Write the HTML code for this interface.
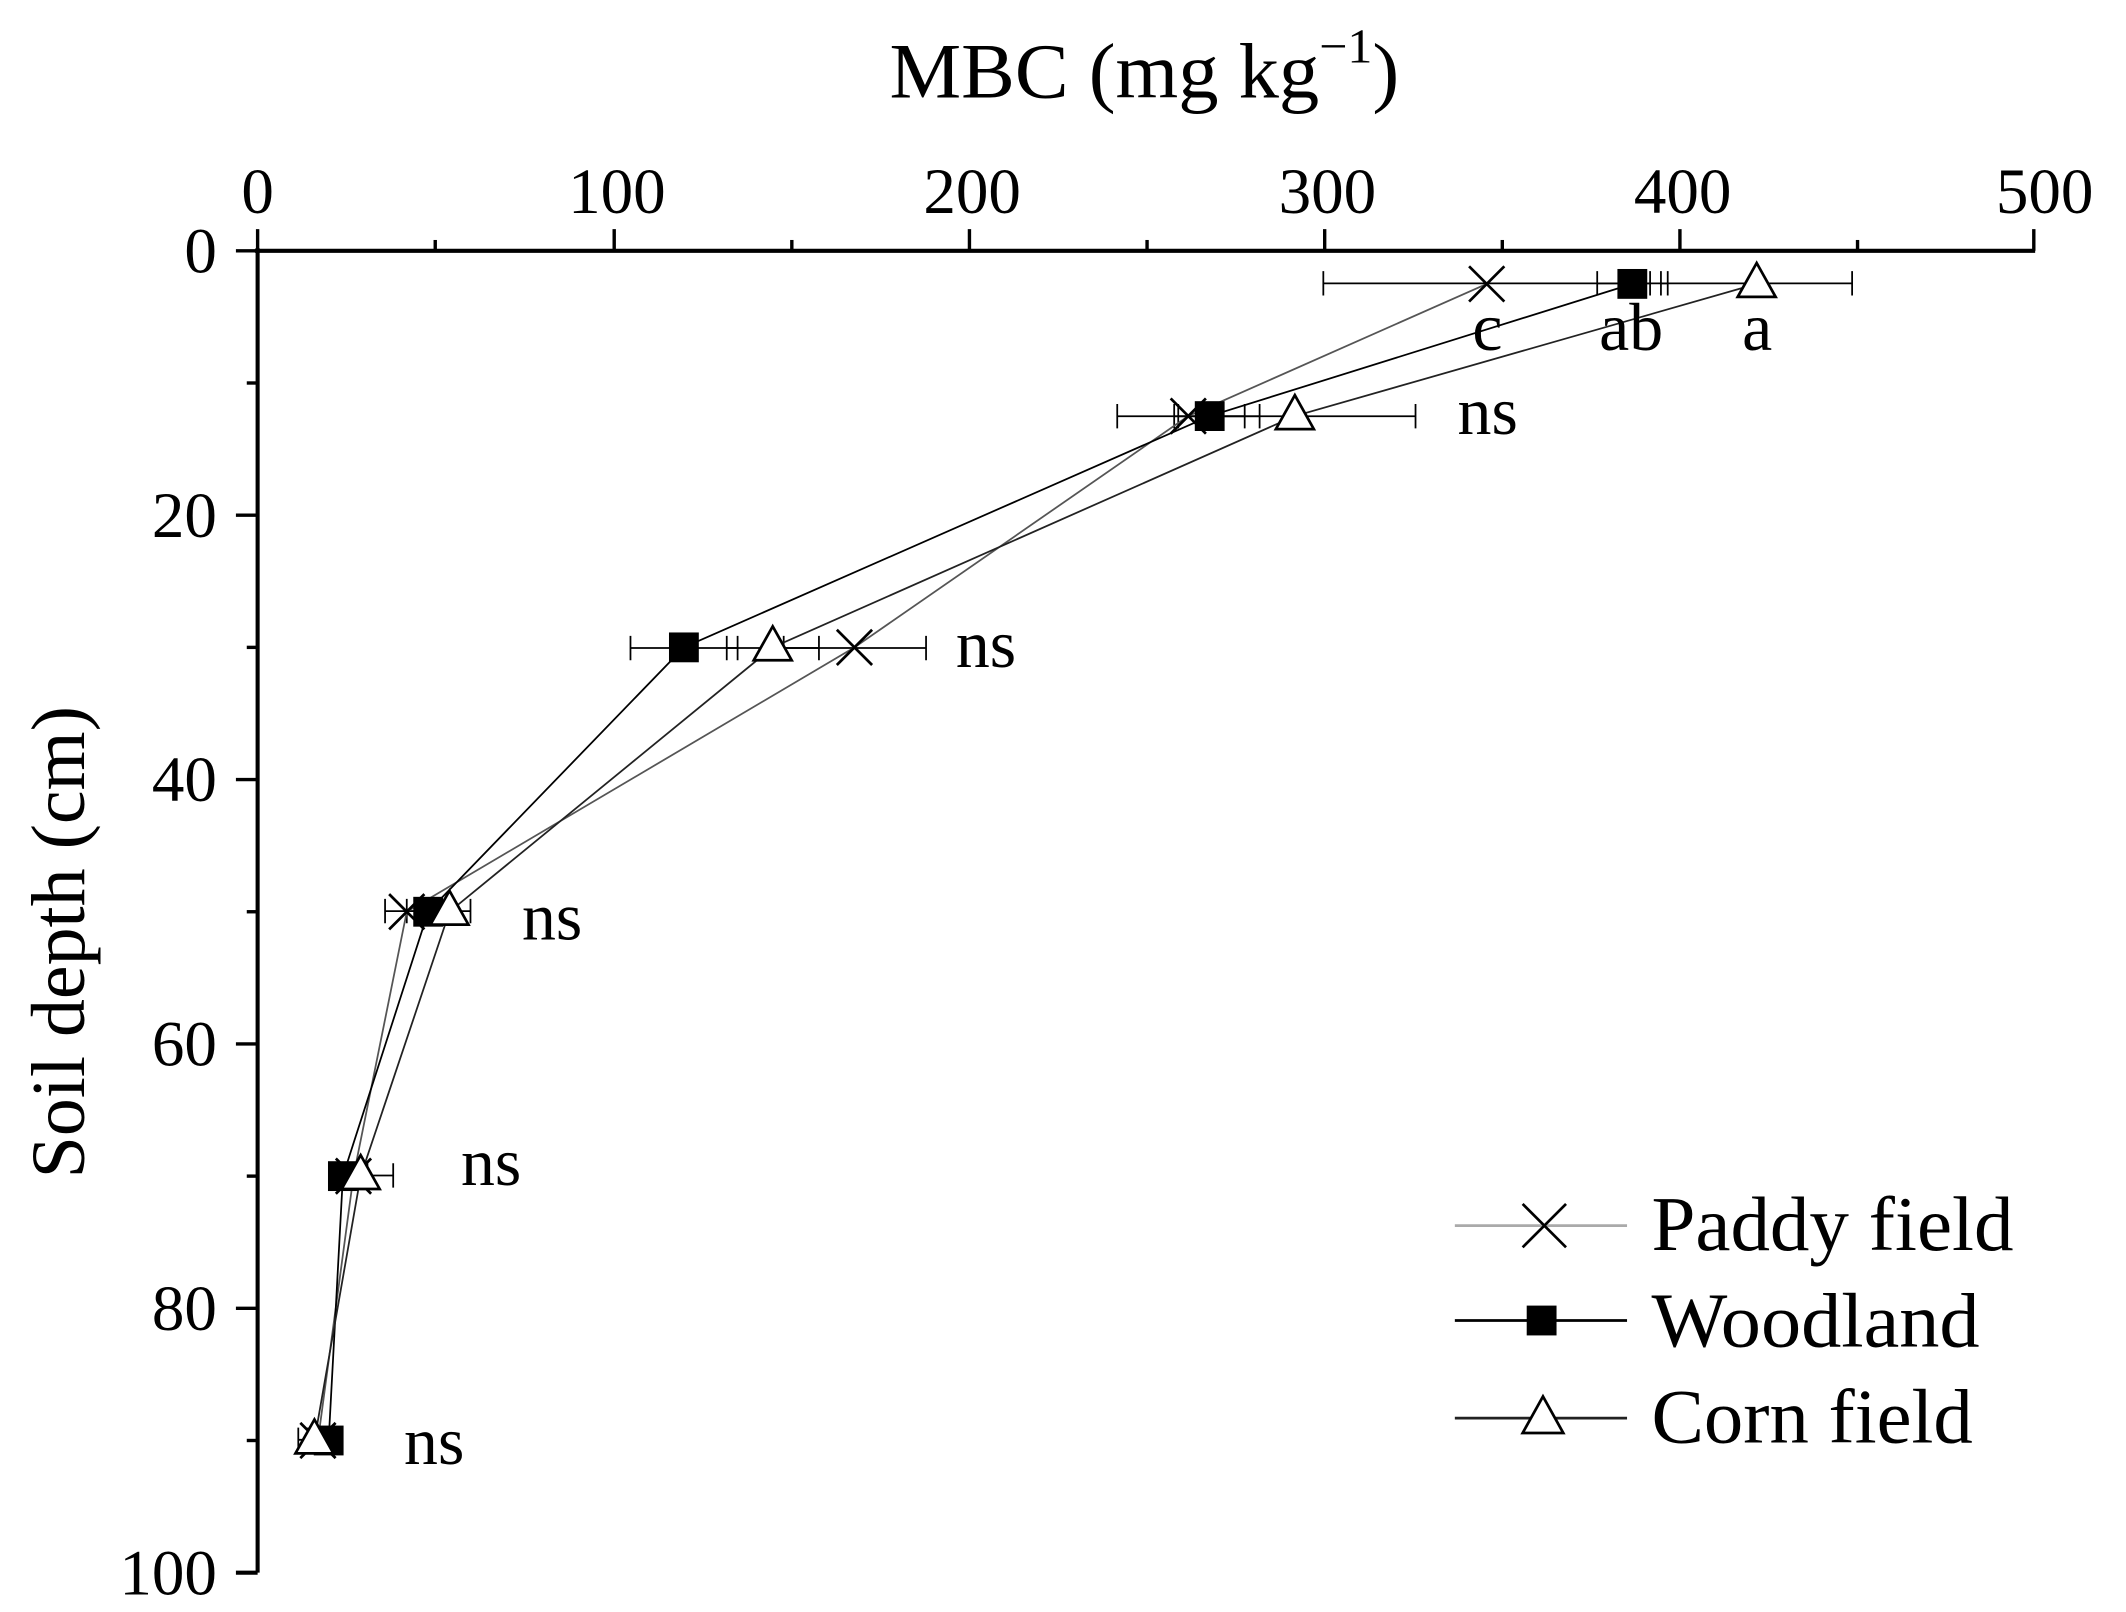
<!DOCTYPE html>
<html><head><meta charset="utf-8"><style>html,body{margin:0;padding:0;background:#fff}svg{display:block}</style></head>
<body>
<svg width="2126" height="1612" viewBox="0 0 1568 1189" preserveAspectRatio="none" xmlns="http://www.w3.org/2000/svg" font-family="Liberation Serif, serif">
<rect width="1568" height="1189" fill="#fff"/>
<!-- title -->
<text x="656" y="72" font-size="58" textLength="376" lengthAdjust="spacingAndGlyphs">MBC (mg kg<tspan font-size="36" dy="-26">−1</tspan><tspan dy="26">)</tspan></text>
<text transform="translate(62,695) rotate(-90)" text-anchor="middle" font-size="56">Soil depth (cm)</text>
<!-- axes -->
<g stroke="#000" stroke-width="3" fill="none">
<line x1="188" y1="185" x2="1501" y2="185"/>
<line x1="190" y1="183" x2="190" y2="1160"/>
<line x1="174" y1="1160" x2="190" y2="1160"/>
</g>
<g stroke="#000" stroke-width="2.5">
<line x1="190" y1="185" x2="190" y2="169"/><line x1="453" y1="185" x2="453" y2="169"/><line x1="715" y1="185" x2="715" y2="169"/><line x1="977" y1="185" x2="977" y2="169"/><line x1="1239" y1="185" x2="1239" y2="169"/><line x1="1500" y1="185" x2="1500" y2="169"/>
<line x1="321" y1="185" x2="321" y2="177"/><line x1="584" y1="185" x2="584" y2="177"/><line x1="846" y1="185" x2="846" y2="177"/><line x1="1108" y1="185" x2="1108" y2="177"/><line x1="1370" y1="185" x2="1370" y2="177"/>
<line x1="174" y1="185" x2="190" y2="185"/><line x1="174" y1="380" x2="190" y2="380"/><line x1="174" y1="575" x2="190" y2="575"/><line x1="174" y1="770" x2="190" y2="770"/><line x1="174" y1="965" x2="190" y2="965"/>
<line x1="182" y1="282.5" x2="190" y2="282.5"/><line x1="182" y1="477.5" x2="190" y2="477.5"/><line x1="182" y1="672.5" x2="190" y2="672.5"/><line x1="182" y1="867.5" x2="190" y2="867.5"/><line x1="182" y1="1062.5" x2="190" y2="1062.5"/>
</g>
<g font-size="48" text-anchor="middle">
<text x="190" y="157">0</text><text x="455" y="157">100</text><text x="717" y="157">200</text><text x="979" y="157">300</text><text x="1241" y="157">400</text><text x="1508" y="157">500</text>
</g>
<g font-size="48" text-anchor="end">
<text x="160" y="201">0</text><text x="160" y="396">20</text><text x="160" y="591">40</text><text x="160" y="786">60</text><text x="160" y="981">80</text><text x="160" y="1176">100</text>
</g>
<!-- error bars -->
<g stroke="#000" stroke-width="1.3" fill="none">
<path d="M976 209H1217M976 200V218M1217 200V218"/>
<path d="M1178 209H1230M1178 200V218M1230 200V218"/>
<path d="M1225 209H1366M1225 200V218M1366 200V218"/>
<path d="M824 307H929M824 298V316M929 298V316"/>
<path d="M866 307H918M866 298V316M918 298V316"/>
<path d="M869 307H1044M869 298V316M1044 298V316"/>
<path d="M465 478H544M465 469V487M544 469V487"/>
<path d="M536 478H604M536 469V487M604 469V487"/>
<path d="M578 478H683M578 469V487M683 469V487"/>
<path d="M284 672H316M284 663V681M316 663V681"/>
<path d="M300 672H331M300 663V681M331 663V681"/>
<path d="M316 672H347M316 663V681M347 663V681"/>
<path d="M243 867H263M243 858V876M263 858V876"/>
<path d="M250 867H271M250 858V876M271 858V876"/>
<path d="M255 867H290M255 858V876M290 858V876"/>
<path d="M227 1062H243M227 1053V1071M243 1053V1071"/>
<path d="M234 1062H250M234 1053V1071M250 1053V1071"/>
<path d="M220 1062H248M220 1053V1071M248 1053V1071"/>
</g>
<!-- series lines -->
<g fill="none" stroke-width="1.3">
<polyline stroke="#555" points="1096.5,209.4 876.4,306.9 630.2,477.5 300,672.5 260.7,867.5 234.5,1062.5"/>
<polyline stroke="#000" points="1203.9,209.4 892.2,306.9 504.4,477.5 315.8,672.5 252.9,867.5 242.4,1062.5"/>
<polyline stroke="#222" points="1295.6,209.4 955,306.9 569.9,477.5 331.5,672.5 266,867.5 231.9,1062.5"/>
</g>
<!-- markers -->
<g stroke="#000" stroke-width="2" fill="none">
<path d="M1083.5 196.4l26 26M1109.5 196.4l-26 26"/>
<path d="M863.4 293.9l26 26M889.4 293.9l-26 26"/>
<path d="M617.2 464.5l26 26M643.2 464.5l-26 26"/>
<path d="M287 659.5l26 26M313 659.5l-26 26"/>
<path d="M247.7 854.5l26 26M273.7 854.5l-26 26"/>
<path d="M221.5 1049.5l26 26M247.5 1049.5l-26 26"/>
</g>
<g fill="#000">
<rect x="1192.9" y="198.4" width="22" height="22"/>
<rect x="881.2" y="295.9" width="22" height="22"/>
<rect x="493.4" y="466.5" width="22" height="22"/>
<rect x="304.8" y="661.5" width="22" height="22"/>
<rect x="241.9" y="856.5" width="22" height="22"/>
<rect x="231.4" y="1051.5" width="22" height="22"/>
</g>
<g fill="#fff" stroke="#000" stroke-width="2">
<path d="M1295.6 194l-14 25h28z"/>
<path d="M955 291.5l-14 25h28z"/>
<path d="M569.9 462l-14 25h28z"/>
<path d="M331.5 657l-14 25h28z"/>
<path d="M266 852l-14 25h28z"/>
<path d="M231.9 1047l-14 25h28z"/>
</g>
<!-- significance labels -->
<g font-size="50">
<text x="1097" y="258" text-anchor="middle">c</text>
<text x="1203" y="258" text-anchor="middle">ab</text>
<text x="1296" y="258" text-anchor="middle">a</text>
<text x="1075" y="320">ns</text>
<text x="705" y="492">ns</text>
<text x="385" y="693">ns</text>
<text x="340" y="874">ns</text>
<text x="298" y="1080">ns</text>
</g>
<!-- legend -->
<g stroke-width="2">
<line x1="1073" y1="904" x2="1200" y2="904" stroke="#aaa"/>
<path d="M1123 888l32 32M1155 888l-32 32" stroke="#000" fill="none"/>
<line x1="1073" y1="974" x2="1200" y2="974" stroke="#000"/>
<rect x="1126" y="963" width="22" height="22" fill="#000"/>
<line x1="1073" y1="1046" x2="1200" y2="1046" stroke="#222"/>
<path d="M1138 1030l-15 27h30z" fill="#fff" stroke="#000"/>
</g>
<g font-size="57">
<text x="1218" y="922" textLength="267" lengthAdjust="spacingAndGlyphs">Paddy field</text>
<text x="1218" y="993" textLength="242" lengthAdjust="spacingAndGlyphs">Woodland</text>
<text x="1218" y="1064" textLength="237" lengthAdjust="spacingAndGlyphs">Corn field</text>
</g>
</svg>
</body></html>
